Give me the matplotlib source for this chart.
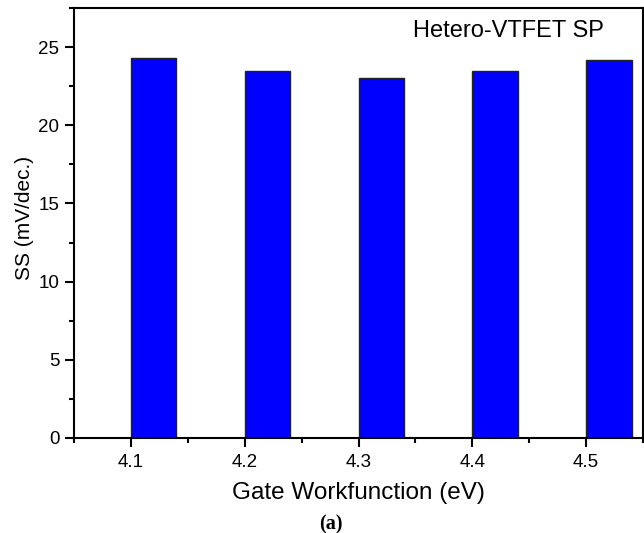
import matplotlib
matplotlib.use("Agg")
import matplotlib.pyplot as plt
from matplotlib.ticker import MultipleLocator

workfunction = [4.1, 4.2, 4.3, 4.4, 4.5]
ss_values = [24.3, 23.5, 23.05, 23.45, 24.2]
xtick_labels = ["4.1", "4.2", "4.3", "4.4", "4.5"]

plt.rcParams['font.family'] = ['Liberation Sans', 'DejaVu Sans']

fig = plt.figure(figsize=(6.44, 5.33), dpi=100)
ax = fig.add_axes([74/644, 1-438/533, (643-74)/644, (438-8)/533])

ax.bar(workfunction, ss_values, width=0.04, align='edge', color='#0000ff',
       edgecolor='#222222', linewidth=1.0)

ax.set_xlim(4.05, 4.55)
ax.set_ylim(0, 27.5)
ax.set_xticks(workfunction)
ax.set_xticklabels(xtick_labels)
ax.xaxis.set_minor_locator(MultipleLocator(0.05))
ax.yaxis.set_major_locator(MultipleLocator(5))
ax.yaxis.set_minor_locator(MultipleLocator(2.5))
ax.tick_params(which='major', direction='out', length=6.5, width=1.5, labelsize=13.5)
ax.tick_params(which='minor', direction='out', length=3.5, width=1.5)
ax.tick_params(axis='x', pad=5)
ax.tick_params(axis='y', pad=4)
for s in ax.spines.values():
    s.set_linewidth(1.5)

ax.set_xlabel("Gate Workfunction (eV)", fontsize=17.5)
ax.set_ylabel("SS (mV/dec.)", fontsize=15)
ax.xaxis.set_label_coords(0.5, -(492.5-438)/430, transform=ax.transAxes)
ax.xaxis.label.set_va('center')
ax.yaxis.set_label_coords(-(74-25)/569, (438-218)/430, transform=ax.transAxes)
ax.yaxis.label.set_va('center')

fig.text(413/644, 1-31/533, "Hetero-VTFET SP", fontsize=17, ha='left', va='center')
fig.text(331/644, 1-524/533, "(a)", fontsize=14.5, fontweight='bold',
         family=['Liberation Serif', 'DejaVu Serif'], ha='center', va='center')

fig.savefig("out.png", dpi=100)
